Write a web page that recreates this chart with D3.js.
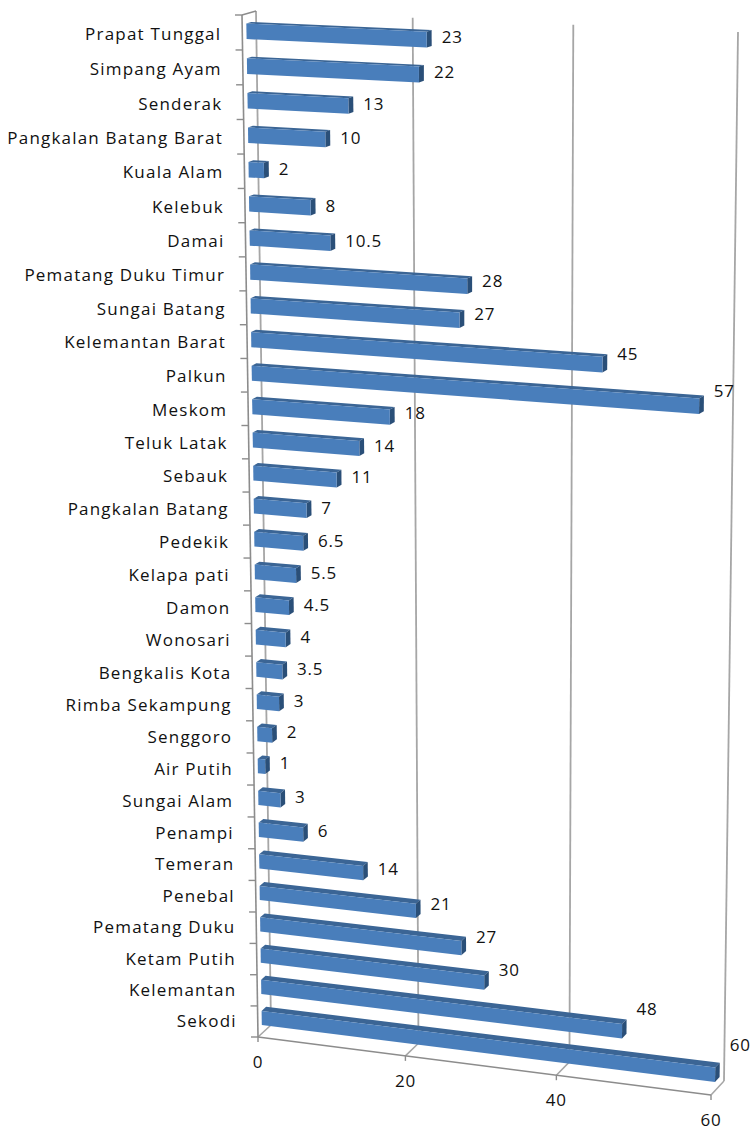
<!DOCTYPE html>
<html>
<head>
<meta charset="utf-8">
<script src="https://cdnjs.cloudflare.com/ajax/libs/d3/7.8.5/d3.min.js"></script>
<style>
  html, body { margin: 0; padding: 0; background: #fff; }
  text { font-family: "Open Sans", "Lato", sans-serif; fill: #111; }
</style>
</head>
<body>
<svg id="chart" width="753" height="1131"></svg>
<script>
const categories = ["Prapat Tunggal", "Simpang Ayam", "Senderak", "Pangkalan Batang Barat", "Kuala Alam", "Kelebuk", "Damai", "Pematang Duku Timur", "Sungai Batang", "Kelemantan Barat", "Palkun", "Meskom", "Teluk Latak", "Sebauk", "Pangkalan Batang", "Pedekik", "Kelapa pati", "Damon", "Wonosari", "Bengkalis Kota", "Rimba Sekampung", "Senggoro", "Air Putih", "Sungai Alam", "Penampi", "Temeran", "Penebal", "Pematang Duku", "Ketam Putih", "Kelemantan", "Sekodi"];
const values = [23, 22, 13, 10, 2, 8, 10.5, 28, 27, 45, 57, 18, 14, 11, 7, 6.5, 5.5, 4.5, 4, 3.5, 3, 2, 1, 3, 6, 14, 21, 27, 30, 48, 60];
const valueTicks = [0, 20, 40, 60];

// corners of the front and back planes of the 3d box, as the picture shows them
const frontPlane = [[242, 15], [724, 37], [711, 1095], [258, 1037]];
const backPlane = [[256, 11], [738, 32], [724, 1081], [271, 1025]];

// unit square -> quad
function homography(q) {
  const [[x0, y0], [x1, y1], [x2, y2], [x3, y3]] = q;
  const dx1 = x1 - x2, dx2 = x3 - x2, sx = x0 - x1 + x2 - x3;
  const dy1 = y1 - y2, dy2 = y3 - y2, sy = y0 - y1 + y2 - y3;
  const det = dx1 * dy2 - dx2 * dy1;
  const g = (sx * dy2 - dx2 * sy) / det;
  const h = (dx1 * sy - sx * dy1) / det;
  const a = x1 - x0 + g * x1, b = x3 - x0 + h * x3;
  const d = y1 - y0 + g * y1, e = y3 - y0 + h * y3;
  return (u, v) => {
    const w = g * u + h * v + 1;
    return [(a * u + b * v + x0) / w, (d * u + e * v + y0) / w];
  };
}

const front = homography(frontPlane);
const back = homography(backPlane);
function project(u, v, depth) {
  const f = front(u, v), b = back(u, v);
  return [f[0] + (b[0] - f[0]) * depth, f[1] + (b[1] - f[1]) * depth];
}

const x = d3.scaleLinear().domain([0, 60]).range([0, 1]);
const y = d3.scaleBand().domain(categories).range([0, 1]).paddingInner(0.55).paddingOuter(0.275);
const barDepth = [0.3, 0.65];

const svg = d3.select("#chart");
const defs = svg.append("defs");
defs.append("filter").attr("id", "soft").append("feGaussianBlur").attr("stdDeviation", 0.5);

const gridColor = "#a6a6a6";
const axisColor = "#8c8c8c";
const poly = (pts) => pts.map((p) => p.map((n) => n.toFixed(1)).join(",")).join(" ");
const seg = (g, a, b, color, w) => g.append("line")
  .attr("x1", a[0]).attr("y1", a[1]).attr("x2", b[0]).attr("y2", b[1])
  .attr("stroke", color).attr("stroke-width", w);

// walls and floor
const wall = svg.append("g").attr("filter", "url(#soft)");
valueTicks.forEach((t) => {
  seg(wall, project(x(t), 0, 1), project(x(t), 1, 1), gridColor, 1.8);
  seg(wall, project(x(t), 1, 0), project(x(t), 1, 1), gridColor, 1.5);
  seg(wall, project(x(t), 1, 0), [project(x(t), 1, 0)[0], project(x(t), 1, 0)[1] + 5], axisColor, 1.4);
});
seg(wall, project(0, 0, 0), project(0, 1, 0), axisColor, 1.6);
seg(wall, project(0, 0, 0), project(0, 0, 1), axisColor, 1.5);
seg(wall, project(0, 1, 0), project(1, 1, 0), axisColor, 1.6);
d3.range(categories.length + 1).forEach((i) => {
  const p = project(0, i / categories.length, 0);
  seg(wall, p, [p[0] - 7, p[1]], axisColor, 1.4);
});

// bars
const bars = svg.append("g").attr("filter", "url(#soft)");
categories.forEach((name, i) => {
  const v0 = y(name), v1 = v0 + y.bandwidth();
  const u = x(values[i]);
  const g = bars.append("g");
  g.append("polygon")
    .attr("points", poly([project(0, v0, barDepth[0]), project(u, v0, barDepth[0]), project(u, v0, barDepth[1]), project(0, v0, barDepth[1])]))
    .attr("fill", "#3a6595");
  g.append("polygon")
    .attr("points", poly([project(u, v0, barDepth[0]), project(u, v0, barDepth[1]), project(u, v1, barDepth[1]), project(u, v1, barDepth[0])]))
    .attr("fill", "#2c4f78");
  g.append("polygon")
    .attr("points", poly([project(0, v0, barDepth[0]), project(u, v0, barDepth[0]), project(u, v1, barDepth[0]), project(0, v1, barDepth[0])]))
    .attr("fill", "#4a7ebb");
});

// category labels
const labels = svg.append("g");
categories.forEach((name) => {
  const c = y(name) + y.bandwidth() / 2;
  const p = project(0, c, 0);
  labels.append("text")
    .attr("x", p[0] - 21)
    .attr("y", p[1] + 7.5 - 2 * c)
    .attr("text-anchor", "end")
    .attr("font-size", 17)
    .attr("letter-spacing", 1.2)
    .text(name);
});

// value labels, they climb away from the bar as it gets longer
categories.forEach((name, i) => {
  const c = y(name) + y.bandwidth() / 2;
  const val = values[i];
  const p = project(x(val), c, barDepth[1]);
  const dy = -(0.15 + 0.4 * c) * Math.max(0, val - 14);
  labels.append("text")
    .attr("x", p[0] + 10)
    .attr("y", p[1] + 6 + dy)
    .attr("font-size", 17)
    .attr("letter-spacing", 0.8)
    .text(val);
});

// value axis labels
valueTicks.forEach((t) => {
  const p = project(x(t), 1, 0);
  labels.append("text")
    .attr("x", p[0])
    .attr("y", p[1] + 31)
    .attr("text-anchor", "middle")
    .attr("font-size", 17)
    .attr("letter-spacing", 0.8)
    .text(t);
});
</script>
</body>
</html>
